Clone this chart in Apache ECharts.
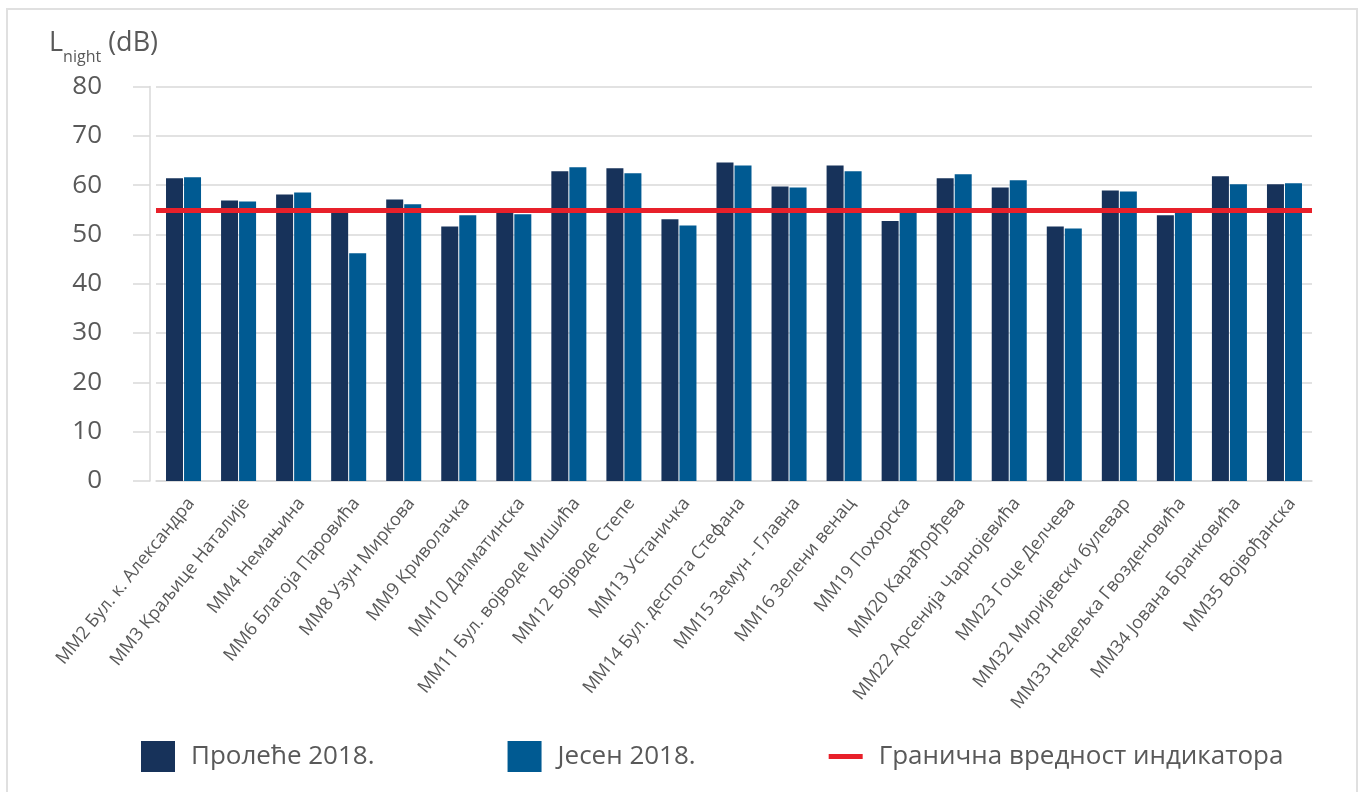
<!DOCTYPE html>
<html>
<head>
<meta charset="utf-8">
<script src="https://cdn.jsdelivr.net/npm/echarts@6/dist/echarts.min.js"></script>
<style>
  html, body { margin: 0; padding: 0; background: #ffffff; }
  #chart { width: 1364px; height: 792px; }
  #frame { position: absolute; left: 6px; top: 8px; width: 1352px; height: 800px;
           border: 2px solid #e0e0e0; box-sizing: border-box; pointer-events: none; }
</style>
</head>
<body>
<div id="chart"></div>
<div id="frame"></div>
<script>
// Measuring points (Cyrillic station names)
const stations = [
  'ММ2 Бул. к. Александра', 'ММ3 Краљице Наталије', 'ММ4 Немањина',
  'ММ6 Благоја Паровића', 'ММ8 Узун Миркова', 'ММ9 Криволачка',
  'ММ10 Далматинска', 'ММ11 Бул. војводе Мишића', 'ММ12 Војводе Степе',
  'ММ13 Устаничка', 'ММ14 Бул. деспота Стефана', 'ММ15 Земун - Главна',
  'ММ16 Зелени венац', 'ММ19 Похорска', 'ММ20 Карађорђева',
  'ММ22 Арсенија Чарнојевића', 'ММ23 Гоце Делчева', 'ММ32 Миријевски булевар',
  'ММ33 Недељка Гвозденовића', 'ММ34 Јована Бранковића', 'ММ35 Војвођанска'
];

// Night-time noise level Lnight (dB), spring and autumn campaigns
const spring2018 = [61.4, 56.9, 58.1, 54.8, 57.1, 51.6, 54.9, 62.8, 63.4, 53.1,
                    64.6, 59.7, 64.0, 52.7, 61.4, 59.5, 51.6, 58.9, 53.9, 61.8, 60.2];
const autumn2018 = [61.6, 56.7, 58.5, 46.2, 56.1, 53.9, 54.1, 63.6, 62.4, 51.8,
                    64.0, 59.5, 62.8, 54.9, 62.2, 61.0, 51.2, 58.7, 54.5, 60.2, 60.4];

// Limit value of the indicator
const limitValue = 55;

// Value axis range
const yMin = 0, yMax = 80, yStep = 10;

const seriesNames = ['Пролеће 2018.', 'Јесен 2018.', 'Гранична вредност индикатора'];

const textGray = '#595959';
const gridGray = '#d9d9d9';
const limitRed = '#e8202a';
const font = 'Open Sans';

// Legend icon for the limit line: a thin horizontal bar inside the full icon box
// (tiny corner specks keep the icon box at its full size)
const limitIcon = 'path://M0,0 L0.01,0 L0,0.01 Z M0,13 L34,13 L34,18 L0,18 Z M34,31 L33.99,31 L34,30.99 Z';

const chart = echarts.init(document.getElementById('chart'), null, { renderer: 'canvas' });

chart.setOption({
  animation: false,
  backgroundColor: '#ffffff',
  textStyle: { fontFamily: font },
  title: {
    left: 49, top: 30, padding: 0,
    text: '{a|L}{b|night}{a| (dB)}',
    textStyle: {
      fontWeight: 'normal',
      rich: {
        a: { fontSize: 27, fontWeight: 'normal', color: textGray, fontFamily: font, lineHeight: 30, verticalAlign: 'top' },
        b: { fontSize: 16, fontWeight: 'normal', color: textGray, fontFamily: font, lineHeight: 20, padding: [19, 0, 0, 0], verticalAlign: 'top' }
      }
    }
  },
  legend: {
    left: 141, top: 741, padding: 0,
    itemWidth: 34, itemHeight: 31, itemGap: 133,
    data: [
      { name: seriesNames[0], icon: 'rect' },
      { name: seriesNames[1], icon: 'rect' },
      { name: seriesNames[2], icon: limitIcon, itemStyle: { color: limitRed } }
    ],
    textStyle: { fontSize: 26, color: textGray, fontFamily: font, padding: [0, 0, 0, 11] }
  },
  grid: { left: 156, right: 52, top: 86.5, bottom: 311, containLabel: false },
  xAxis: {
    type: 'category',
    data: stations,
    axisLine: { show: true, lineStyle: { color: gridGray, width: 1.5 } },
    axisTick: { show: false },
    axisLabel: {
      interval: 0, rotate: 51, margin: 8,
      verticalAlign: 'top', padding: [4, 4, 0, 0],
      fontSize: 18, color: textGray, fontFamily: font
    }
  },
  yAxis: {
    type: 'value', min: yMin, max: yMax, interval: yStep, offset: 6,
    axisLine: { show: true, lineStyle: { color: gridGray, width: 1.5 } },
    axisTick: { show: true, inside: false, length: 17, lineStyle: { color: gridGray, width: 1.5 } },
    axisLabel: { fontSize: 26, color: textGray, fontFamily: font, margin: 48 },
    splitLine: { show: true, lineStyle: { color: gridGray, width: 1.5 } }
  },
  series: [
    {
      name: seriesNames[0], type: 'bar', data: spring2018,
      barWidth: 17, barGap: '6%',
      itemStyle: { color: '#17325a' }
    },
    {
      name: seriesNames[1], type: 'bar', data: autumn2018,
      barWidth: 17, barGap: '6%',
      itemStyle: { color: '#005a92' }
    },
    {
      name: seriesNames[2], type: 'line', data: [],
      symbol: 'none',
      lineStyle: { color: limitRed, width: 5 },
      itemStyle: { color: limitRed },
      markLine: {
        silent: true, symbol: ['none', 'none'], label: { show: false },
        lineStyle: { color: limitRed, width: 5, type: 'solid' },
        data: [{ yAxis: limitValue }]
      },
      z: 5
    }
  ]
});
</script>
</body>
</html>
